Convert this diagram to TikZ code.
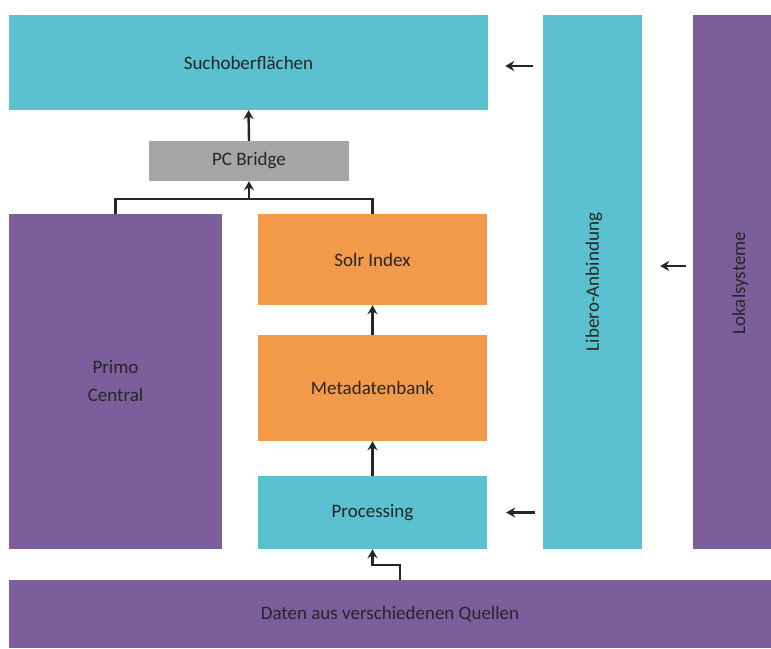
\documentclass[tikz,border=0pt]{standalone}
\usepackage{fontspec}
\setmainfont{Carlito}
\usetikzlibrary{arrows,arrows.meta,calc,positioning}
\definecolor{tuerkis}{HTML}{5BC0CF}
\definecolor{lila}{HTML}{7B5E9B}
\definecolor{orange}{HTML}{F39A4A}
\definecolor{grau}{HTML}{A6A6A6}
\definecolor{schrift}{HTML}{262626}
\tikzset{
	block/.style={inner sep=0pt, text=schrift, font=\fontsize{19}{28}\selectfont, align=center},
	pfeil/.style={draw=schrift, line width=2.4pt, -{Stealth[length=9pt,width=10pt]}},
	linie/.style={draw=schrift, line width=2.4pt}
}

\begin{document}
\begin{tikzpicture}[x=1pt,y=1pt]
				\useasboundingbox[fill=white] (0,0) rectangle (771,-648);
				\node[block, fill=tuerkis, minimum width=479, minimum height=95] (such) at (248.5,-62.5) {Suchoberfl\"achen};
				\node[block, fill=tuerkis, minimum width=99, minimum height=534] (libero) at (592.5,-282) {};
				\node[rotate=90, block] (liberotxt) at (594,-282) {Libero-Anbindung};
				\node[block, fill=lila, minimum width=78, minimum height=534] (lokal) at (732,-282) {};
				\node[rotate=90, block] (lokaltxt) at (740,-283) {Lokalsysteme};
				\node[block, fill=grau, minimum width=200, minimum height=40] (pcb) at (249,-161) {PC Bridge};
				\node[block, fill=lila, minimum width=213, minimum height=335] (primo) at (115.5,-381.5) {Primo\\Central};
				\node[block, fill=orange, minimum width=229, minimum height=91] (solr) at (372.5,-259.5) {Solr Index};
				\node[block, fill=orange, minimum width=229, minimum height=106] (meta) at (372.5,-388) {Metadatenbank};
				\node[block, fill=tuerkis, minimum width=229, minimum height=73] (proc) at (372.5,-512.5) {Processing};
				\node[block, fill=lila, minimum width=762, minimum height=68] (daten) at (390,-614) {Daten aus verschiedenen Quellen};
				\coordinate (join) at (249,-199);
				\coordinate (knick) at (400,-565);
				\coordinate (lokalpfeil) at (0,-266);
				\coordinate (suchpfeil) at (0,-66);
				\draw[linie] (primo.north) |- (join) -| (solr.north);
				\draw[pfeil] (join) -- (pcb.south);
				\draw[pfeil] (pcb.north) -- (such.south);
				\draw[pfeil] (meta.north) -- (solr.south);
				\draw[pfeil] (proc.north) -- (meta.south);
				\draw[pfeil] (daten.north -| knick) -- (knick) -| (proc.south);
				\draw[pfeil, shorten <=10pt, shorten >=17pt] (libero.west |- suchpfeil) -- (such.east |- suchpfeil);
				\draw[pfeil, shorten <=7pt, shorten >=18pt] (lokal.west |- lokalpfeil) -- (libero.east |- lokalpfeil);
				\draw[pfeil, shorten <=8pt, shorten >=19pt] (libero.west |- proc.east) -- (proc.east);
	\end{tikzpicture}
\end{document}
